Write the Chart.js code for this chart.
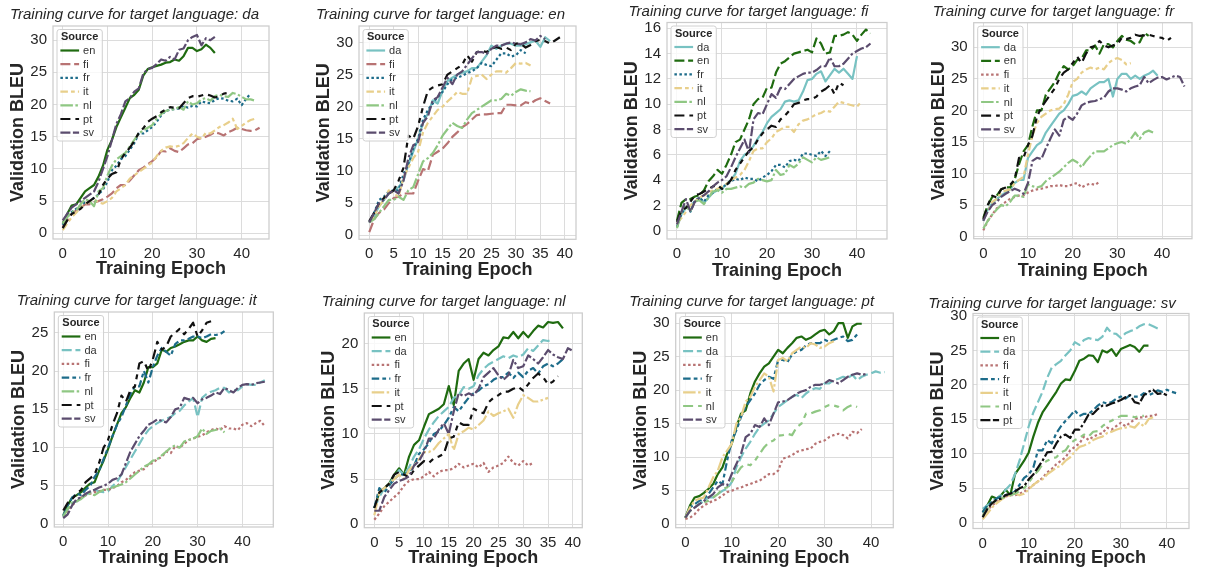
<!DOCTYPE html>
<html>
<head>
<meta charset="utf-8">
<style>
  html, body { margin: 0; padding: 0; background: #fff; overflow: hidden; }
  #fig { position: relative; width: 1219px; height: 574px; overflow: hidden; }
  #fig canvas { position: absolute; }
</style>
</head>
<body>
<div id="fig"></div>
<script src="https://cdn.jsdelivr.net/npm/chart.js@4.4.1/dist/chart.umd.min.js"></script>
<script>
// validation BLEU per epoch, one array per (target, source) pair; index = epoch
// target da
var da_en = [1.5,3,4.3,4.5,5.5,6.5,7,7.5,8.8,10.5,13,14.5,16.5,18,19.5,21,21.5,22.3,24.5,25.5,25.8,26,26.2,26.5,26.6,27,26.8,27.5,28.8,28.8,28.3,28.6,29.3,28.8,28];
var da_fi = [1,2,3,3.5,4,4.5,4.5,4.8,5,5.3,5.7,6.2,7,7.5,7.5,8.2,9,9.8,10.2,10.7,11.2,11.8,12.8,12.7,13.2,12.8,12.6,13.2,13.8,14,14.6,14.8,15,15.3,15.7,15.5,15.2,15.7,16,16.4,16.2,16,15.9,16,16.4];
var da_fr = [1.3,2.5,3.3,3.8,4.3,4.8,5,5.5,6,6.8,8,9.8,10.5,11.5,12,13,14,15.5,15.5,16,16.5,17.3,18.3,19,19.2,19.3,19.4,19.8,19.5,19.8,19.7,20.5,20.3,20.2,20.7,21,20.9,20.6,20.5,20.9,19.9,20.9,21.7];
var da_it = [0.5,1.5,2.5,3.2,4,4.5,5,5.3,4.8,4.6,5,5.5,6.5,7,7.5,8.5,9,9.5,10,10.5,11,12,12.8,13.3,13.5,13.4,13.6,14,14.8,15.5,15,14.7,15.6,15.5,16,16.5,16.8,17.2,17.8,16.2,16.7,17.2,17.6,17.8];
var da_nl = [1.5,2.5,3.3,3.5,4.5,5.3,5,4.2,6.5,7,9,10.5,11.5,12,12.5,13.5,14.5,15.5,16,16.4,16.8,17.8,18.5,19,19.2,19.3,19.6,19.2,20.5,20,20.2,20.8,21,20.6,21.3,21.5,21.3,21.2,21.8,21.6,21.2,20.8,20.8,20.6];
var da_pt = [0.8,2,3,3.4,3.8,4.5,5,5.5,6,7.5,8.5,9.2,9.5,11.5,12.5,13.3,14.3,15.6,16.3,17.3,17.8,18.2,18.8,19.2,19.6,19.5,19.4,20.2,21,21.3,21.2,21.4,21.6,21.4,21.1,21.3,21.7,21.8];
var da_sv = [2,3,4,4.5,5,5.5,6,6.5,8,10,12,14.5,17,18.5,20.5,21,22,22.5,24.8,25.5,25.7,26.3,27,26.8,27.4,27,28.5,28.7,30,30.5,30.8,29.2,30.3,30,30.5];
// target en
var en_da = [2.2,3,4.5,5.5,6.5,7,7.5,8.5,11,13,15,17.5,19,21,20.5,22.5,24,24.5,25,25.3,25.5,26,26,27,28,29.5,29,29.5,29.8,29.8,29.5,29.5,29.7,30,30.3,29.3,30.8,30.2];
var en_fi = [0.5,2.5,3.5,4,5,5.8,6,6.5,6.5,6.5,8.5,10.3,10,12.5,13,13.5,14.3,15.3,16,16.8,17.3,18,18.7,18.8,18.8,18.9,19,19,20.3,20.3,20.2,20.2,20.7,20.5,21,21.3,20.9,20.5];
var en_fr = [2,3.5,5.5,6,6.8,7,7,9.5,11,13.5,15,18,19.5,20.5,21.5,22.3,23.5,24.3,24.5,24.8,25.2,25.5,26,26.8,26.5,26.3,27.3,28.3,28.3,27.8,28,28.8,28.3];
var en_it = [2,3,4.5,5.5,7,6.5,6,9,10.5,12,13,16,17.5,18.5,19.5,20,20.8,21.5,22.3,22,22,24.5,24.8,25,24.3,25,25.5,25.5,25.3,26,26.8,26.7,26.8,26.4];
var en_nl = [2,2.5,3.5,4.5,5.5,5.5,6,5.5,7,7.5,9.5,11.5,12,12.8,14,15.5,16.5,17.5,17,16.7,18,19,19.5,20,20.5,21,21,21.2,22,21.7,22.3,22.7,22.5,22.4];
var en_pt = [2.2,3.5,5,5.8,6.5,7,8.5,10.5,15.5,15,17,20,22.5,23,23.3,23.5,25,25.5,26,26.5,28,27,28.5,28.7,28.5,29,29.3,29,29.2,28.8,29.8,29.8,29.2,29.6,30.2,30.4,30.2,29.8,30.3,30.8];
var en_sv = [2,3.5,5,5.5,6.5,7,6.5,8.5,12,14,14.5,17.5,18.5,21,21.5,23,24.5,23.5,25,25.5,26.5,27.5,28.5,28.5,28.2,29,29.5,29.5,29.8,30,29.8,29.7,30,30.5,30.3,31,30.5];
// target fi
var fi_da = [0.3,1.3,1.8,2,2.3,2.6,2.2,2.6,3,3.2,3.3,3.7,4,4.5,5.5,6,6.2,6.7,7.3,7.8,8.5,9,9.3,9.6,10.2,10.3,10.2,10.3,11,11.9,12,12.4,12.6,11.8,12.3,12.8,12.5,12.8,12.4,12,13.8];
var fi_en = [0.8,2.2,2.5,2.5,2.7,2.8,3.2,3.9,4.3,4.8,4.5,5.2,6,7,7.2,8,8.8,10,10.4,10.5,11.3,11.3,12.5,13.2,13.4,13.7,14,14.1,14.2,14.3,14.1,15.2,14.8,14,14.1,15.4,15.4,15.5,15.7,15.5,15,15.5,15.9,15.6];
var fi_fr = [0.3,1.3,2,1.5,2.4,2.6,2.3,2.8,3,3.3,3.5,3.6,3.9,4.1,4,4.2,4.1,4.1,3.9,4.2,4.4,4.7,5.2,5.2,5,5.5,5.6,5.5,6.1,6.1,6,5.9,6.3,5.9,6.3];
var fi_it = [0.6,1,1.5,2,2.3,2.6,2.8,3,3.2,3.3,3.5,3.7,4,4.2,4.4,4.8,5.5,6.3,6.5,6.5,7,7.3,7.8,8,8.2,8.2,7.8,8.4,8.7,8.8,9,9.2,9.3,9.5,9.4,9.8,10.2,10.1,10,9.9,9.8,10.2];
var fi_nl = [0.2,1.5,1.9,1.6,2.3,2.4,2.1,2.6,3.1,3.2,3,3.3,3.3,3.4,3.5,3.4,3.7,3.8,4.1,4,3.9,4,4.8,4.4,4.5,5.2,5,5.3,5.8,5.6,5.4,5.8,5.6,5.7,5.8];
var fi_pt = [0.7,1.6,1.8,2.3,2.8,2.9,3.1,3.3,3.5,3.6,3.3,3.6,4,4.8,5.3,5.8,6.3,6.6,7.2,7.7,8,8.3,8.2,8.8,9.1,9.5,10,10.1,10.3,10.4,10.4,10.6,11,11.2,11.5,10.8,11.7,11.5];
var fi_sv = [0.5,1.5,2.5,1.5,2.3,2.6,2.8,3.1,3.5,3.8,4,4.3,5,5.8,6.5,7.2,6.2,8.8,9.3,9.2,10,10.8,10.5,11.3,11.2,11.6,12,12.2,12.4,12.5,12.5,12.7,13,13,13.7,13,13,13.2,13.6,14,14.2,14.4,14.5,14.8];
// target fr
var fr_da = [2.5,4.3,5.3,6,6.5,7,7.5,8.5,9,9,12.5,13.5,14.5,15,16.5,17.5,18.5,19.5,20,21,22.3,22.5,23,22.5,23.5,24,24.5,24.5,25,22.2,25,25.8,25.8,25,25.5,25,25.5,25.8,26.3,25.5];
var fr_en = [3,5,6.3,6.5,7.5,7.8,7.8,9,11.5,13.5,14.5,17.5,20,20,22.5,23.5,24.5,26,27,26.5,27,28,28.2,29.5,29.5,30.3,29,30.5,30.5,30,31,31.8,31.2,31,30.5,30.8,32.3,31.8];
var fr_fi = [1,2.5,3.5,4.5,5,5.5,6,6.3,6.5,6.5,7,7.3,7.5,7.6,7.8,8,8,8.2,8,8,8.3,8.5,7.8,8.2,8.4,8.2,8.7];
var fr_it = [2.8,4,5.5,6,7,7.3,7.5,8.5,9,9.5,13,16,18,19,19.5,20,20.2,20.3,21,22.5,24.5,25,26,26.5,26.8,26.5,26.8,26.5,27.5,28,28.3,28,27.3,27.5];
var fr_nl = [1.3,2.5,3.5,4.3,5,4.8,5.5,6.5,6.5,6.3,8.3,8,7.8,8,8.8,9.3,9.8,10.3,11,11.7,12.2,11.8,11,12,12.8,13.5,13.5,13.5,14,14.5,14.8,15,14.7,15.5,16.5,15.5,16.5,16.8,16.5];
var fr_pt = [2.7,5,6.5,6.2,7.5,7.8,8.2,9,12.5,12.5,14.5,16,19,20.5,21.5,22.5,23.5,25,26,26.5,27.5,28.5,27.5,29,30,30.2,31,30.3,30,30.3,30.5,31.5,31.3,31.5,32,31.8,31.9,32,31.8,31.6,31.5,31,31.5];
var fr_sv = [2.5,4,5,5.5,6.3,6.8,7.2,7.6,7.3,6.8,8.5,12,12.5,12.3,14,15.5,17,16,18.5,19,18.5,19.5,20.8,21.2,21.4,21.5,21.8,22,23,23.5,23.5,23.3,23,23.5,23.8,24,25.3,24.3,24.8,25.2,25.3,24.9,25.2,25.5,25.3,23.8];
// target it
var it_en = [1.2,2.5,3.5,3.8,4.2,4.8,5.3,5.5,7,8.3,9.8,11.5,13,14.5,15.3,16.5,17.5,17.2,18.5,20.5,20.5,21,22.8,22.5,23,23.2,23.5,23.8,24,24,24.5,24,23.8,24.2,24.3];
var it_da = [1.2,2,2.8,3,3.5,3.8,4.2,4.5,4.3,4.2,4.3,5,5.5,6.5,7.5,8.5,9.5,10.5,11.5,12.3,12.8,13.2,13.5,13.8,14,14.5,14.8,15.5,16,16.5,14,16.5,17,17.3,17.5,17.8,17.8,17.2,17.5,17.5,18,18.3,18.2,18.2,18.5,18.8];
var it_fi = [1,1.8,2.5,3,3.5,3.8,4,4.2,4.3,4.5,4.5,4.7,5,5.5,5.8,6.3,6.8,7,7.2,7.8,8,8.5,8.8,9.5,9.3,10.2,10,10.5,11,11.2,11.4,11.6,12,12.3,12.5,12.3,12.8,12.5,12.5,12.3,13,13.2,12.8,13.2,13.5,12.8];
var it_fr = [1,2.5,3.5,4,3.8,4.5,5,6.2,7,8.5,10,11.5,13,14,15.5,17,18,18,20,18.5,20.5,22,23,22.5,22,23.5,24,24,24.2,24.5,24.5,24.3,24.5,24.8,24.7,24.8,25.2];
var it_nl = [1,2,2.8,3,3.3,3.8,4,3.8,4.2,4.5,4.6,4.8,5,5.2,5.5,6,6.5,7,7.5,7.8,8.3,8.5,9,9.5,10,10.3,10,10.8,11,11.2,11.5,12.5,11.8,12.2,12.3,12.5,12];
var it_pt = [1.8,2.8,3.3,4,4.5,5.5,6,6.5,8,10,11,13,14.5,16.8,16,17.5,18,21,21.3,20,21.5,23.8,22.8,23.2,24.5,25,25.5,24.8,25.5,26.3,24.5,25.3,26.3,26.5];
var it_sv = [0.8,1.3,2.5,3.3,3.5,4,4.3,4.5,4.8,5,5.3,5.8,6,6.5,8,9.5,10.5,11.5,12.2,13,13.3,13.7,13.5,13.3,14,15,15.2,16.5,16.3,16.5,15.8,16.3,16.5,16.8,17.2,17,17.8,17.5,17.2,17.8,18.2,18.3,18.2,18.4,18.5,18.6];
// target nl
var nl_en = [1.8,3.5,4,4.5,5.5,6.2,5.5,7.5,8.8,9.3,10.8,12.2,12.5,12.8,13.3,15.3,13.2,17,17.8,18.3,16,18.3,19,18.7,19.3,19.7,20.7,20.6,21.3,20.6,21.3,20.7,21.4,22,21.8,22.4,22.3,22.4,21.7];
var nl_da = [1.8,3,4,4.5,5.2,6,5.5,6.3,7.5,8.3,9.5,10.5,11.3,12,12.5,13,14,14.3,15.2,15,15.3,16.5,17.2,17.7,18,18.3,18.6,18.4,18.7,18.5,18.8,19.5,19.2,19.8,20.4,20.3,20.5];
var nl_fi = [0.5,1.2,2,2.5,3,3.5,4.3,4.8,5,5,5.3,5.8,5.3,5.8,6,6,6.2,6.7,6.3,6.5,6.7,6.3,6.8,5.8,6.3,6.5,6.8,7.5,6.8,6.5,7,6.5,6.8];
var nl_fr = [1.8,4,3.5,4.3,5,5.5,5.5,5.8,6.5,7.8,8.3,9,10,10.3,11,11.8,13,12.5,13.3,14,14.5,14.8,15.3,15.5,16,16.3,16.3,16.8,16.2,16.8,16.3,17,17.3,16.7,17.5,17.8,17.5,17.8,18.3];
var nl_it = [1,3.5,4,4.5,5,5.5,5,6,6.5,7.2,8,8,8.3,9,9.5,10,8.2,10,10.3,10.7,10.5,11,11.5,12.5,12,12.3,12.5,12.8,11.8,13.3,14.3,14,13.6,13.6,13.8,14];
var nl_pt = [1.8,3.5,4,4.5,5.5,5.8,5.5,5.2,6,6.5,7,6.8,7.3,7.5,7.8,9.5,9.7,11.3,11,11,12.8,12.5,12.3,13.5,14,14.3,14.7,14.7,15,15.2,14.8,15.5,16.2,16.7,16.3,15.5,15.8,16.4];
var nl_sv = [1.5,1.5,3,3.8,4.5,4.8,5,5.3,6.5,7,8,9.5,9.5,10.5,11.2,10,12.5,14.5,14.2,14.5,14.3,15,16.3,16.8,17.3,16.5,16,16.5,18.2,17.3,17.5,18.7,18.3,17.8,18.5,19.3,18.8,18.5,18.3,19.5,19.2];
// target pt
var pt_en = [1,2.8,4,4.2,4.7,5.3,6,7.5,8.5,10.5,12,14.5,16.5,17,19.5,21.3,22.5,23.5,24,25,26,25.5,26.3,27,27.8,28,27.5,27.8,28.3,28.8,29,28.3,28.8,30,30,27.8,29.5,29.9,29.9];
var pt_da = [1,2,2.5,3,3.5,4,4,4.5,5,5.3,6.3,8.5,10,11.3,12.3,13.5,14.5,15,15.5,16.5,17.5,18,18.5,19,19.3,18.8,19.5,20,20.3,20.2,21,21,21.5,21.7,22,21.8,22.3,21.5,22,22.3,22.5,22.8,22.6,22.7];
var pt_fi = [0.8,1,1.5,2.3,2.8,3.2,3.5,3.8,4.3,4.8,5,5.3,5.5,5.8,6,6.3,6.5,7,7.5,7.5,8,9.8,10,10.3,10.8,11,11.2,11.3,12,12.3,12.5,13,13.3,13.5,13.3,12.8,13.8,13.6,14.2];
var pt_fr = [1,2.5,3,3.5,3.8,4.5,5.5,6.5,6,9.5,12.5,14,16,17.5,18.5,19.5,20.8,21.5,22,21.7,24.5,24.5,24.2,25.3,25.8,26,26.7,27,27,27,27.5,27.2,27.5,27.8,28,27.3,27.5,28.3];
var pt_it = [1,2.5,3.5,3.8,4,5.5,7,8,10,11,12,15,16,18.3,19,20.5,21.5,22.5,22,19.8,24.5,24.8,24.3,25.5,26,26.5,26.3,27,26.8,26.3,26.5,27,27.3];
var pt_nl = [1,2,2.5,3,3.3,3.5,4,4.5,5.3,5.5,6.3,7.5,8.5,9,8.8,9.5,10.5,11.5,12.2,12.5,13.2,13.3,13.5,13.3,14.5,15,16.5,16.5,16.8,17,17.5,17.8,17.7,17.5,17,17.5,17.8,17.5];
var pt_sv = [1,2,2.5,3,3.5,4,4.5,5.5,6,5.8,7.5,9,10.5,13,13.5,14.8,14.5,15.8,14.8,16.5,18.2,18.3,18.5,19,19.5,19.8,20,20.5,20.8,20.8,21,21.5,21.3,21,21.5,22,22.3,22.5,22.3,22.4];
// target sv
var sv_en = [1.5,2.5,3.8,3.5,4,4.8,4,7,8,9,10.2,12.5,14.5,16,17,18,19,20.2,20.8,20.7,22,23.5,23.8,24.3,24.2,23.3,25,24.7,25.2,24.2,25.2,25.5,25.8,25.5,24.8,25.7,25.7];
var sv_da = [2,2.5,3,3.5,4,4.8,5.5,7,9,11.5,14,16,17.5,19,21,22.5,23,23.5,24.3,25,26.2,25.8,26.5,26.8,26.6,26.5,27,28.3,27.5,27.4,26.8,27.5,27.8,28,28.5,28.8,28.8,28.5,28.2];
var sv_fi = [1,1.8,2.5,3,3.5,3.8,4,4,4.2,4.5,5,5.5,6,6.5,7.3,7.8,8.5,9,9.5,10.5,11,11.5,12.5,12,12.5,12.8,13,13.8,13.5,14,14.5,14,14.5,15,15.3,15.3,15.5,15.5,15.8];
var sv_fr = [1.5,2.5,3,3.5,3.8,4,4.2,4.5,5.5,6.5,7,8,10.5,10.5,12,11.5,13,14,14.8,15.5,16.3,15.5,15.8,15.8,16.3,17,17.5,17.3,17.5,18,18.3,18,18.5,18.3,18.3,18.8,18.5,18.8,19.2,19,19.3,19,18.8];
var sv_it = [0.5,1.3,2.2,2.8,3.3,3.8,4,4.3,4,4.2,4.8,5.5,6,6.3,7,7.5,8,8.3,9,9.5,10.3,11,11.2,11.5,12,12.3,12.5,13,13.2,13.5,13.7,13.8,14,13.8,14.5,14,15,15.3];
var sv_nl = [1,2,2.8,3.2,3.5,3.8,4,4.2,4.6,5,5.8,6.8,7.5,8.5,9,9.3,9.5,10.2,10.5,11.5,12,12.3,12.8,12.5,13.2,13.3,14,14.5,14.8,15.2,15.5,15.5,15.5,15.3,15.5,15.5];
var sv_pt = [0.8,2,2.8,3.3,3.5,4,4.2,4.5,5,5.3,6.3,7,8,9,10.2,10.3,11.5,12.5,12.8,12.3,13.5,13.5,14.5,15.7,15.8,16.5,17,17,17.3,17.5,17.8,18.2,18.5,17.5,17.3,18.5,19,19.3,18.7,18.8,18.5];

var colors = { da: '#78c2c2', en: '#1f6b10', fi: '#b87373', fr: '#1d6c8a', it: '#e8cf8b', nl: '#8fc783', pt: '#111111', sv: '#5b4c6e' };
// seaborn style dash cycle (units of line width)
var dashes = [[], [4,1.5], [1,1], [3,1.25,1.5,1.25], [5,1,1,1], [4,2,2,2,2,2], [4,1,4,1,1,1]];
var DASH = 2.5;
var FONT = '"Liberation Sans", Arial, sans-serif';
var INK = '#262626';

// layout: cell = canvas origin, box = plot area [left, top, right, bottom] in page px
var panels = [
  { target: 'da', sources: ['en','fi','fr','it','nl','pt','sv'], series: [da_en,da_fi,da_fr,da_it,da_nl,da_pt,da_sv],
    cell: [0, 0], box: [53, 26, 269, 239], x: [-2.17, 46.1, 10], y: [-0.89, 32.2, 5], titleY: 15, xTitleY: 269.5 },
  { target: 'en', sources: ['da','fi','fr','it','nl','pt','sv'], series: [en_da,en_fi,en_fr,en_it,en_nl,en_pt,en_sv],
    cell: [305, 0], box: [359, 26, 576, 239.3], x: [-2.1, 42.3, 5], y: [-0.62, 32.55, 5], titleY: 15, xTitleY: 270 },
  { target: 'fi', sources: ['da','en','fr','it','nl','pt','sv'], series: [fi_da,fi_en,fi_fr,fi_it,fi_nl,fi_pt,fi_sv],
    cell: [610, 0], box: [667, 22.5, 887, 239], x: [-2.22, 46.67, 10], y: [-0.66, 16.46, 2], titleY: 11.7, xTitleY: 271.5 },
  { target: 'fr', sources: ['da','en','fi','it','nl','pt','sv'], series: [fr_da,fr_en,fr_fi,fr_it,fr_nl,fr_pt,fr_sv],
    cell: [915, 0], box: [973.7, 22.7, 1192, 238.7], x: [-2.15, 46.7, 10], y: [-0.32, 33.9, 5], titleY: 11.7, xTitleY: 271.5 },
  { target: 'it', sources: ['en','da','fi','fr','nl','pt','sv'], series: [it_en,it_da,it_fi,it_fr,it_nl,it_pt,it_sv],
    cell: [0, 287], box: [54.3, 312, 273.3, 527], x: [-2.0, 46.9, 10], y: [-0.35, 27.7, 5], titleY: 301, xTitleY: 558.5 },
  { target: 'nl', sources: ['en','da','fi','fr','it','pt','sv'], series: [nl_en,nl_da,nl_fi,nl_fr,nl_it,nl_pt,nl_sv],
    cell: [305, 287], box: [364.3, 313, 582.3, 527.7], x: [-2.02, 41.9, 5], y: [-0.38, 23.4, 5], titleY: 302, xTitleY: 558.5 },
  { target: 'pt', sources: ['en','da','fi','fr','it','nl','sv'], series: [pt_en,pt_da,pt_fi,pt_fr,pt_it,pt_nl,pt_sv],
    cell: [610, 287], box: [675.7, 313, 893.3, 527.7], x: [-2.07, 44.8, 10], y: [-0.5, 31.5, 5], titleY: 302, xTitleY: 558.5 },
  { target: 'sv', sources: ['en','da','fi','fr','it','nl','pt'], series: [sv_en,sv_da,sv_fi,sv_fr,sv_it,sv_nl,sv_pt],
    cell: [915, 287], box: [973, 313.5, 1189, 528.5], x: [-2.1, 44.8, 10], y: [-0.84, 30.36, 5], titleY: 303.5, xTitleY: 558.5 }
];

// light grey frame round the axes, like the seaborn whitegrid spines
var frame = {
  id: 'frame',
  beforeDatasetsDraw: function(chart) {
    var a = chart.chartArea, ctx = chart.ctx;
    ctx.save();
    ctx.strokeStyle = '#cccccc';
    ctx.lineWidth = 1.25;
    ctx.strokeRect(a.left, a.top, a.right - a.left, a.bottom - a.top);
    ctx.restore();
  }
};

// matplotlib-like legend drawn inside the axes, on top of the lines
var boxLegend = {
  id: 'boxLegend',
  afterDatasetsDraw: function(chart) {
    var ctx = chart.ctx, a = chart.chartArea;
    var ds = chart.data.datasets;
    ctx.save();
    ctx.font = '11px ' + FONT;
    var maxW = 0;
    ds.forEach(function(d) { maxW = Math.max(maxW, ctx.measureText(d.label).width); });
    ctx.font = 'bold 11px ' + FONT;
    var titleW = ctx.measureText('Source').width;
    var w = Math.max(titleW + 8, 3.4 + 18.7 + 4 + maxW + 5);
    var step = 13.7;
    var h = 21 + (ds.length - 1) * step + 8.3;
    var x = a.left + 4, y = a.top + 3.5;

    ctx.beginPath();
    ctx.roundRect(x, y, w, h, 2.5);
    ctx.fillStyle = 'rgba(255,255,255,0.8)';
    ctx.fill();
    ctx.strokeStyle = '#d0d0d0';
    ctx.lineWidth = 1;
    ctx.stroke();

    ctx.fillStyle = INK;
    ctx.textAlign = 'center';
    ctx.textBaseline = 'middle';
    ctx.fillText('Source', x + w / 2, y + 7.7);

    ds.forEach(function(d, i) {
      var cy = y + 21 + i * step;
      ctx.beginPath();
      ctx.setLineDash(d.borderDash || []);
      ctx.strokeStyle = d.borderColor;
      ctx.lineWidth = d.borderWidth;
      ctx.moveTo(x + 3.4, cy);
      ctx.lineTo(x + 3.4 + 18.7, cy);
      ctx.stroke();
      ctx.setLineDash([]);
      ctx.font = '11px ' + FONT;
      ctx.fillStyle = '#333333';
      ctx.textAlign = 'left';
      ctx.fillText(d.label, x + 3.4 + 18.7 + 4, cy + 0.5);
    });
    ctx.restore();
  }
};

var fig = document.getElementById('fig');

panels.forEach(function(p) {
  var cx = p.cell[0], cy = p.cell[1];
  var L = p.box[0] - cx, T = p.box[1] - cy, R = p.box[2] - cx, B = p.box[3] - cy;
  var H = 287;
  var W = Math.round(2 * ((L + R) / 2));

  var canvas = document.createElement('canvas');
  canvas.width = W;
  canvas.height = H;
  canvas.style.left = cx + 'px';
  canvas.style.top = cy + 'px';
  canvas.style.width = W + 'px';
  canvas.style.height = H + 'px';
  fig.appendChild(canvas);

  var n = p.sources.length;
  var datasets = p.sources.map(function(src, i) {
    return {
      label: src,
      data: p.series[i].map(function(v, ep) { return { x: ep, y: v }; }),
      borderColor: colors[src],
      backgroundColor: colors[src],
      borderWidth: 2.2,
      borderDash: dashes[i].map(function(d) { return d * DASH; }),
      borderJoinStyle: 'round',
      borderCapStyle: 'butt',
      pointRadius: 0,
      pointHoverRadius: 0,
      tension: 0,
      fill: false,
      order: n - 1 - i
    };
  });

  var titleLH = 18;
  var titlePadTop = (p.titleY - cy) - titleLH / 2;
  var titlePadBottom = T - titlePadTop - titleLH;
  var axLH = 18 * 1.2;

  new Chart(canvas, {
    type: 'line',
    data: { datasets: datasets },
    options: {
      responsive: false,
      animation: false,
      devicePixelRatio: 1,
      layout: { padding: { left: 0, top: 0, bottom: 0, right: W - R } },
      plugins: {
        legend: { display: false },
        tooltip: { enabled: false },
        title: {
          display: true,
          text: 'Training curve for target language: ' + p.target,
          color: INK,
          font: { family: FONT, size: 15, style: 'italic', weight: 'normal', lineHeight: 1.2 },
          padding: { top: titlePadTop, bottom: titlePadBottom }
        }
      },
      scales: {
        x: {
          type: 'linear',
          min: p.x[0], max: p.x[1],
          afterFit: function(s) { s.height = H - B; },
          border: { display: false },
          grid: { color: '#dcdcdc', lineWidth: 1, drawTicks: false },
          ticks: {
            stepSize: p.x[2], includeBounds: false, autoSkip: false, maxRotation: 0,
            padding: 6, color: INK, font: { family: FONT, size: 15 }
          },
          title: {
            display: true, text: 'Training Epoch', color: INK,
            font: { family: FONT, size: 18, weight: 'bold', lineHeight: 1.2 },
            padding: { top: 0, bottom: H - (p.xTitleY - cy) - axLH / 2 }
          }
        },
        y: {
          type: 'linear',
          min: p.y[0], max: p.y[1],
          afterFit: function(s) { s.width = L; },
          border: { display: false },
          grid: { color: '#dcdcdc', lineWidth: 1, drawTicks: false },
          ticks: {
            stepSize: p.y[2], includeBounds: false, autoSkip: false,
            padding: 6, color: INK, font: { family: FONT, size: 15 }
          },
          title: {
            display: true, text: 'Validation BLEU', color: INK,
            font: { family: FONT, size: 18, weight: 'bold', lineHeight: 1.2 },
            padding: { top: L - 35 - axLH / 2, bottom: 0 }
          }
        }
      }
    },
    plugins: [frame, boxLegend]
  });
});
</script>
</body>
</html>
